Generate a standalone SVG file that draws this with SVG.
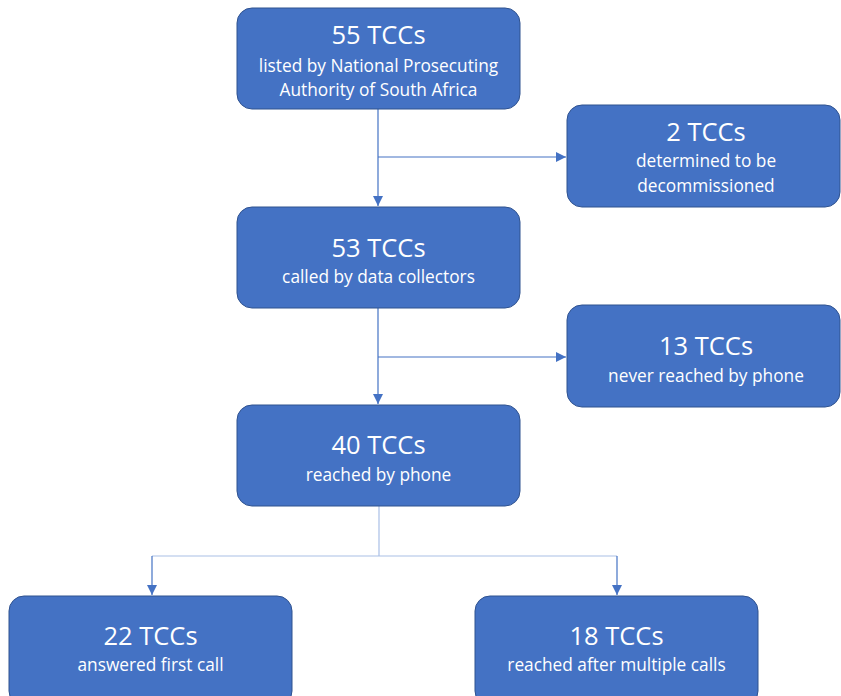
<svg xmlns="http://www.w3.org/2000/svg" width="841" height="696" viewBox="0 0 841 696">
<style>
.box{fill:#4472C4;stroke:#2F528F;stroke-width:1}
.t1{font-family:"Open Sans","Liberation Sans",sans-serif;font-size:25.5px;fill:#fff;text-anchor:middle}
.t2{font-family:"Open Sans","Liberation Sans",sans-serif;font-size:17.3px;fill:#fff;text-anchor:middle}
.c{fill:none;stroke:#4472C4;stroke-width:1.2}
.c2{fill:none;stroke:#A9BFE6;stroke-width:1.2}
</style>
<defs>
<marker id="ah" viewBox="0 0 10 10" refX="10" refY="5" markerWidth="10" markerHeight="10" markerUnits="userSpaceOnUse" orient="auto">
<path d="M0,0 L10,5 L0,10 Z" fill="#4472C4"/>
</marker>
</defs>
<g id="connectors">
<path class="c" d="M378,109 V206" marker-end="url(#ah)"/>
<path class="c" d="M378,157 H566" marker-end="url(#ah)"/>
<path class="c" d="M378,308 V404" marker-end="url(#ah)"/>
<path class="c" d="M378,357 H566" marker-end="url(#ah)"/>
<path class="c2" d="M379,506 V556"/>
<path class="c2" d="M152,556 H617"/>
<path class="c" d="M152,556 V595" marker-end="url(#ah)"/>
<path class="c" d="M617,556 V595" marker-end="url(#ah)"/>
</g>
<g id="n55">
<rect class="box" x="237" y="8" width="283" height="101" rx="15"/>
<text class="t1" x="378.5" y="44">55 TCCs</text>
<text class="t2" x="378.5" y="72">listed by National Prosecuting</text>
<text class="t2" x="378.5" y="96">Authority of South Africa</text>
</g>
<g id="n2">
<rect class="box" x="567" y="105" width="273" height="102" rx="15"/>
<text class="t1" x="706" y="141">2 TCCs</text>
<text class="t2" x="706" y="167">determined to be</text>
<text class="t2" x="706" y="192">decommissioned</text>
</g>
<g id="n53">
<rect class="box" x="237" y="207" width="283" height="101" rx="15"/>
<text class="t1" x="378.5" y="257">53 TCCs</text>
<text class="t2" x="378.5" y="283">called by data collectors</text>
</g>
<g id="n13">
<rect class="box" x="567" y="305" width="273" height="102" rx="15"/>
<text class="t1" x="706" y="355">13 TCCs</text>
<text class="t2" x="706" y="382">never reached by phone</text>
</g>
<g id="n40">
<rect class="box" x="237" y="405" width="283" height="101" rx="15"/>
<text class="t1" x="378.5" y="454">40 TCCs</text>
<text class="t2" x="378.5" y="481">reached by phone</text>
</g>
<g id="n22">
<rect class="box" x="9" y="596" width="283" height="110" rx="15"/>
<text class="t1" x="150.5" y="645">22 TCCs</text>
<text class="t2" x="150.5" y="671">answered first call</text>
</g>
<g id="n18">
<rect class="box" x="475" y="596" width="283" height="110" rx="15"/>
<text class="t1" x="616.5" y="645">18 TCCs</text>
<text class="t2" x="616.5" y="671">reached after multiple calls</text>
</g>
</svg>
